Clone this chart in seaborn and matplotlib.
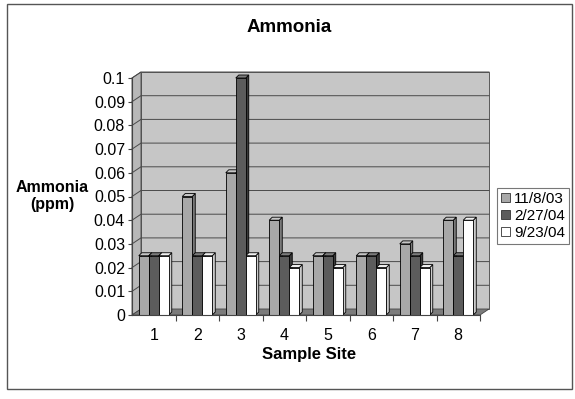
import numpy as np
import pandas as pd
import seaborn as sns
import matplotlib.pyplot as plt
from matplotlib.patches import Polygon, Rectangle, Patch
from matplotlib.lines import Line2D
from matplotlib.transforms import IdentityTransform

# ---------- data ---------- #
sites = ['1', '2', '3', '4', '5', '6', '7', '8']
dates = ['11/8/03', '2/27/04', '9/23/04']
nov_03 = [0.025, 0.05, 0.06, 0.04, 0.025, 0.025, 0.03, 0.04]
feb_04 = [0.025, 0.025, 0.1, 0.025, 0.025, 0.025, 0.025, 0.025]
sep_04 = [0.025, 0.025, 0.025, 0.02, 0.02, 0.02, 0.02, 0.04]
yticks = [0, 0.01, 0.02, 0.03, 0.04, 0.05, 0.06, 0.07, 0.08, 0.09, 0.1]
ytick_labels = ['0', '0.01', '0.02', '0.03', '0.04', '0.05', '0.06', '0.07', '0.08', '0.09', '0.1']

front_colors = ['#a8a8a8', '#5c5c5c', '#ffffff']
side_colors = ['#7a7a7a', '#3a3a3a', '#cccccc']
top_colors = ['#c6c6c6', '#7c7c7c', '#f0f0f0']

df = pd.DataFrame({
    'site': sites * 3,
    'date': np.repeat(dates, len(sites)),
    'ppm': nov_03 + feb_04 + sep_04,
})

plt.rcParams['font.family'] = ['Liberation Sans', 'DejaVu Sans']

fig = plt.figure(figsize=(5.75, 3.99), dpi=100)
W, H = 575, 399
ax = fig.add_axes([132 / W, 1 - 315 / H, 348 / W, 237 / H])
ax.patch.set_visible(False)

sns.barplot(data=df, x='site', y='ppm', hue='date', palette=front_colors,
            saturation=1, width=0.69, edgecolor='black', linewidth=0.6,
            legend=False, ax=ax, zorder=3)
ax.set_xlim(-0.5, 7.5)
ax.set_ylim(0, 0.1)
ax.set_autoscale_on(False)

# ---------- fake 3d: walls, floor, grid ---------- #
wdx, wdy = 9, 6      # depth of the chart box in pixels
bdx, bdy = 3, 3      # depth of each bar


def slab(front_pts, dx, dy):
    front = ax.transData.transform(front_pts)
    back = front[::-1] + [dx, dy]
    return np.vstack([front, back])


def add_poly(pts, fc, z, ec='#444444', lw=0.6):
    ax.add_artist(Polygon(pts, closed=True, facecolor=fc, edgecolor=ec, lw=lw,
                          transform=IdentityTransform(), clip_on=False, zorder=z))


x0, x1 = ax.get_xlim()
back_wall = ax.transData.transform([(x0, 0), (x1, 0), (x1, 0.1), (x0, 0.1)]) + [wdx, wdy]
add_poly(back_wall, '#c6c6c6', 0.1)
add_poly(slab([(x0, 0), (x0, 0.1)], wdx, wdy), '#b8b8b8', 0.2)
add_poly(slab([(x0, 0), (x1, 0)], wdx, wdy), '#7c7c7c', 0.3)

for y in yticks[1:]:
    pts = ax.transData.transform([(x0, y), (x0, y), (x1, y)])
    pts[1:] += [wdx, wdy]
    ax.add_artist(Line2D(pts[:, 0], pts[:, 1], color='#4a4a4a', lw=0.7,
                         transform=IdentityTransform(), clip_on=False, zorder=0.5))

# side and top faces of every bar
for i, cont in enumerate(ax.containers):
    for rect in cont:
        bx, bw, bh = rect.get_x(), rect.get_width(), rect.get_height()
        add_poly(slab([(bx + bw, 0), (bx + bw, bh)], bdx, bdy), side_colors[i], 2, ec='black')
        add_poly(slab([(bx, bh), (bx + bw, bh)], bdx, bdy), top_colors[i], 2, ec='black')

# ---------- axes styling ---------- #
for s in ['top', 'right']:
    ax.spines[s].set_visible(False)
for s in ['left', 'bottom']:
    ax.spines[s].set_color('#444444')
    ax.spines[s].set_linewidth(0.8)
    ax.spines[s].set_zorder(4)

ax.set_yticks(yticks, ytick_labels)
ax.tick_params(axis='y', length=3, width=0.8, color='#444444', labelsize=11.5, pad=2)
ax.set_xticks(range(len(sites)), sites)
ax.set_xticks(np.arange(0.5, len(sites), 1), minor=True)
ax.tick_params(axis='x', which='major', length=0, labelsize=11.5, pad=9)
ax.tick_params(axis='x', which='minor', length=4, width=0.8, color='#444444')
ax.set_xlabel('')
ax.set_ylabel('')

fig.text(289 / W, 1 - 28 / H, 'Ammonia', ha='center', va='center', fontsize=13.5, fontweight='bold')
fig.text(52 / W, 1 - 196 / H, 'Ammonia\n(ppm)', ha='center', va='center', fontsize=11.5,
         fontweight='bold', linespacing=1.15)
fig.text(309 / W, 1 - 355 / H, 'Sample Site', ha='center', va='center', fontsize=12, fontweight='bold')

handles = [Patch(facecolor=c, edgecolor='#333333', lw=0.6) for c in front_colors]
leg = fig.legend(handles, dates, loc='upper left', bbox_to_anchor=(497 / W, 1 - 188 / H),
                 frameon=True, fancybox=False, edgecolor='#555555', fontsize=11,
                 handlelength=0.6, handleheight=0.6, handletextpad=0.25,
                 borderpad=0.25, labelspacing=0.2, borderaxespad=0)
leg.get_frame().set_linewidth(0.8)

fig.patches.append(Rectangle((7 / W, 1 - 389 / H), 565 / W, 385 / H, transform=fig.transFigure,
                             fill=False, edgecolor='#555555', lw=1))

fig.savefig('out.png', dpi=100)
